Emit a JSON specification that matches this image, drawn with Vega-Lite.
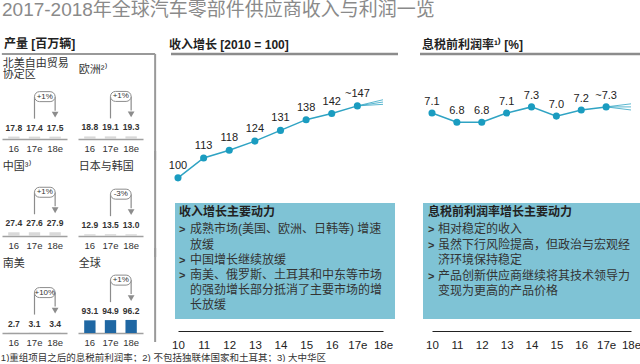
{
  "$schema": "https://vega.github.io/schema/vega-lite/v6.json",
  "background": "white",
  "padding": {"left": 0, "top": 1, "right": 0, "bottom": 0},
  "title": {"text": "2017-2018年全球汽车零部件供应商收入与利润一览", "anchor": "start", "frame": "group", "baseline": "middle", "offset": 9, "fontSize": 19, "fontWeight": "normal", "color": "#8a8a8a"},
  "datasets": {
    "production": [
      {"region": "NAFTA", "name": "北美自由贸易\n协定区", "year": "16", "value": 17.8, "pct": "+1%"},
      {"region": "NAFTA", "name": "北美自由贸易\n协定区", "year": "17e", "value": 17.4, "pct": "+1%"},
      {"region": "NAFTA", "name": "北美自由贸易\n协定区", "year": "18e", "value": 17.5, "pct": "+1%"},
      {"region": "Europe", "name": "欧洲²⁾", "year": "16", "value": 18.8, "pct": "+1%"},
      {"region": "Europe", "name": "欧洲²⁾", "year": "17e", "value": 19.1, "pct": "+1%"},
      {"region": "Europe", "name": "欧洲²⁾", "year": "18e", "value": 19.3, "pct": "+1%"},
      {"region": "China", "name": "中国³⁾", "year": "16", "value": 27.4, "pct": "+1%"},
      {"region": "China", "name": "中国³⁾", "year": "17e", "value": 27.6, "pct": "+1%"},
      {"region": "China", "name": "中国³⁾", "year": "18e", "value": 27.9, "pct": "+1%"},
      {"region": "JapanKorea", "name": "日本与韩国", "year": "16", "value": 12.9, "pct": "-3%"},
      {"region": "JapanKorea", "name": "日本与韩国", "year": "17e", "value": 13.5, "pct": "-3%"},
      {"region": "JapanKorea", "name": "日本与韩国", "year": "18e", "value": 13.0, "pct": "-3%"},
      {"region": "SouthAmerica", "name": "南美", "year": "16", "value": 2.7, "pct": "+10%"},
      {"region": "SouthAmerica", "name": "南美", "year": "17e", "value": 3.1, "pct": "+10%"},
      {"region": "SouthAmerica", "name": "南美", "year": "18e", "value": 3.4, "pct": "+10%"},
      {"region": "Global", "name": "全球", "year": "16", "value": 93.1, "pct": "+1%"},
      {"region": "Global", "name": "全球", "year": "17e", "value": 94.9, "pct": "+1%"},
      {"region": "Global", "name": "全球", "year": "18e", "value": 96.2, "pct": "+1%"}
    ]
  },
  "vconcat": [
    {
      "title": {"text": "1)重组项目之后的息税前利润率；2) 不包括独联体国家和土耳其；3) 大中华区", "orient": "bottom", "anchor": "start", "frame": "bounds", "baseline": "top", "offset": 2, "fontSize": 9.5, "fontWeight": "normal", "color": "#333"},
      "spacing": 7,
      "hconcat": [
        {
          "data": {"name": "production"},
          "title": {"text": "产量 [百万辆]", "anchor": "start", "frame": "group", "baseline": "middle", "offset": -4, "dx": 2, "fontSize": 12, "fontWeight": "bold", "color": "#222"},
          "facet": {"field": "region", "type": "nominal", "sort": ["NAFTA", "Europe", "China", "JapanKorea", "SouthAmerica", "Global"],
                    "header": {"labels": false, "title": null, "labelFontSize": 1, "labelPadding": 0, "labelExpr": "''", "labelColor": "white"}},
          "columns": 2,
          "spacing": {"row": 21, "column": 11},
          "bounds": "flush",
          "resolve": {"axis": {"x": "independent"}},
          "spec": {
            "width": 65,
            "height": 76,
            "encoding": {
              "x": {"field": "year", "type": "ordinal", "scale": {"domain": ["16", "17e", "18e"], "paddingInner": 0.45, "paddingOuter": 0.3},
                    "axis": {"title": null, "ticks": false, "domainColor": "#a0a0a0", "domainWidth": 1.5, "labelFontSize": 9.5, "labelPadding": 4, "labelAngle": 0, "labelColor": "#333", "grid": false}},
              "y": {"field": "value", "type": "quantitative", "scale": {"domain": [0, 560], "nice": false}, "axis": null}
            },
            "layer": [
              {"mark": {"type": "bar"}, "encoding": {"color": {"condition": {"test": "datum.region === 'Global'", "value": "#1f67a3"}, "value": "#d9d9d9"}}},
              {"mark": {"type": "text", "dy": -9, "fontSize": 8.5, "fontWeight": "bold", "baseline": "middle", "color": "#333"},
               "encoding": {"text": {"field": "value", "type": "quantitative", "format": ".1f"}}},
              {"transform": [{"filter": "datum.year === '16' && datum.region !== 'NAFTA'"}],
               "mark": {"type": "text", "align": "left", "baseline": "middle", "lineBreak": "\n", "lineHeight": 11, "fontSize": 11, "dx": -11, "dy": 7, "color": "#333"},
               "encoding": {"x": {"datum": "16", "type": "ordinal"}, "y": {"datum": 560, "type": "quantitative"}, "text": {"field": "name"}}},
              {"transform": [{"filter": "datum.year === '16' && datum.region === 'NAFTA'"}],
               "mark": {"type": "text", "align": "left", "baseline": "middle", "lineBreak": "\n", "lineHeight": 11, "fontSize": 11, "dx": -11, "dy": 1, "color": "#333"},
               "encoding": {"x": {"datum": "16", "type": "ordinal"}, "y": {"datum": 560, "type": "quantitative"}, "text": {"field": "name"}}},
              {"transform": [{"filter": "datum.year === '17e'"}],
               "mark": {"type": "rule", "color": "#8c8c8c", "strokeWidth": 1.2, "yOffset": -40, "y2Offset": -18},
               "encoding": {"y2": {"field": "value"}}},
              {"transform": [{"filter": "datum.year === '17e'"}],
               "mark": {"type": "rule", "color": "#8c8c8c", "strokeWidth": 1.2, "yOffset": -40, "y2Offset": -26},
               "encoding": {"x": {"datum": "18e", "type": "ordinal"}, "y2": {"field": "value"}}},
              {"transform": [{"filter": "datum.year === '17e'"}],
               "mark": {"type": "point", "shape": "triangle-down", "filled": true, "color": "#8c8c8c", "opacity": 1, "size": 45, "yOffset": -22},
               "encoding": {"x": {"datum": "18e", "type": "ordinal"}}},
              {"transform": [{"filter": "datum.year === '17e'"}],
               "mark": {"type": "rect", "fill": "white", "stroke": "#8c8c8c", "strokeWidth": 1, "cornerRadius": 5, "yOffset": -45, "y2Offset": -35},
               "encoding": {"x": {"datum": "17e", "type": "ordinal", "bandPosition": 0.5}, "x2": {"datum": "18e", "bandPosition": 0.5}, "y2": {"field": "value"}}},
              {"transform": [{"filter": "datum.year === '17e'"}],
               "mark": {"type": "text", "fontSize": 8, "dy": -40, "dx": 10.3, "baseline": "middle", "color": "#333"},
               "encoding": {"text": {"field": "pct"}}},
              {"transform": [{"filter": "datum.year === '16' && (datum.region === 'NAFTA' || datum.region === 'Europe')"}],
               "mark": {"type": "rule", "color": "#999", "strokeWidth": 2, "yOffset": -9, "xOffset": -12, "x2Offset": 24},
               "encoding": {"x": {"datum": "16", "type": "ordinal"}, "x2": {"datum": "18e"}, "y": {"datum": 560, "type": "quantitative"}}},
              {"transform": [{"filter": "datum.year === '16' && (datum.region === 'Europe' || datum.region === 'JapanKorea')"}],
               "mark": {"type": "rule", "color": "#999", "strokeWidth": 2, "xOffset": 24, "yOffset": -9, "y2Offset": 21},
               "encoding": {"x": {"datum": "18e", "type": "ordinal"}, "y": {"datum": 560, "type": "quantitative"}, "y2": {"datum": 0}}},
              {"transform": [{"filter": "datum.year === '16' && datum.region === 'Global'"}],
               "mark": {"type": "rule", "color": "#999", "strokeWidth": 2, "xOffset": 24, "yOffset": -9, "y2Offset": 9},
               "encoding": {"x": {"datum": "18e", "type": "ordinal"}, "y": {"datum": 560, "type": "quantitative"}, "y2": {"datum": 0}}}
            ]
          }
        },
        {
          "width": 247,
          "height": 268,
          "title": {"text": "收入增长 [2010 = 100]", "anchor": "start", "frame": "group", "baseline": "middle", "offset": -4, "dx": 5, "fontSize": 12, "fontWeight": "bold", "color": "#222"},
          "data": {"values": [
            {"kind": "main", "series": "main", "year": "10", "value": 100, "label": "100"},
            {"kind": "main", "series": "main", "year": "11", "value": 113, "label": "113"},
            {"kind": "main", "series": "main", "year": "12", "value": 118, "label": "118"},
            {"kind": "main", "series": "main", "year": "13", "value": 124, "label": "124"},
            {"kind": "main", "series": "main", "year": "14", "value": 131, "label": "131"},
            {"kind": "main", "series": "main", "year": "15", "value": 138, "label": "138"},
            {"kind": "main", "series": "main", "year": "16", "value": 142, "label": "142"},
            {"kind": "main", "series": "main", "year": "17e", "value": 147, "label": "~147"},
            {"kind": "fan", "series": "high", "year": "17e", "value": 147},
            {"kind": "fan", "series": "high", "year": "18e", "value": 151},
            {"kind": "fan", "series": "mid", "year": "17e", "value": 147},
            {"kind": "fan", "series": "mid", "year": "18e", "value": 149.5},
            {"kind": "fan", "series": "low", "year": "17e", "value": 147},
            {"kind": "fan", "series": "low", "year": "18e", "value": 148},
            {"kind": "note", "series": "note", "year": "10", "value": 0, "title": "收入增长主要动力", "bullet": ">", "bullets2": ">\n>", "body": "成熟市场(美国、欧洲、日韩等) 增速\n放缓\n中国增长继续放缓\n南美、俄罗斯、土耳其和中东等市场\n的强劲增长部分抵消了主要市场的增\n长放缓"}
          ]},
          "encoding": {
            "x": {"field": "year", "type": "ordinal", "scale": {"type": "point", "domain": ["10", "11", "12", "13", "14", "15", "16", "17e", "18e"], "range": [14, 219], "padding": 0},
                  "axis": {"title": null, "ticks": false, "domainColor": "#222", "domainWidth": 1, "labelFontSize": 11.5, "labelPadding": 8, "labelAngle": 0, "labelColor": "#222", "grid": false}},
            "y": {"field": "value", "type": "quantitative", "scale": {"domain": [0, 175], "nice": false}, "axis": null}
          },
          "layer": [
            {"transform": [{"filter": "datum.kind === 'note'"}],
             "mark": {"type": "rule", "color": "#8c8c8c", "strokeWidth": 2.5, "xOffset": -7, "x2Offset": 15},
             "encoding": {"x": {"datum": "10", "type": "ordinal"}, "x2": {"datum": "18e"}, "y": {"datum": 180.9, "type": "quantitative"}}},
            {"transform": [{"filter": "datum.kind === 'note'"}],
             "mark": {"type": "rect", "color": "#7fc3d5", "xOffset": -3, "x2Offset": 12},
             "encoding": {"x": {"datum": "10", "type": "ordinal"}, "x2": {"datum": "18e"}, "y": {"datum": 83.6, "type": "quantitative"}, "y2": {"datum": 7.8}}},
            {"transform": [{"filter": "datum.kind === 'note'"}],
             "mark": {"type": "text", "align": "left", "baseline": "alphabetic", "fontSize": 12, "fontWeight": "bold", "dx": 1, "color": "#222"},
             "encoding": {"x": {"datum": "10", "type": "ordinal"}, "y": {"datum": 75.1, "type": "quantitative"}, "text": {"field": "title"}}},
            {"transform": [{"filter": "datum.kind === 'note'"}],
             "mark": {"type": "text", "align": "left", "baseline": "alphabetic", "fontSize": 11, "fontWeight": "bold", "dx": 1, "color": "#333"},
             "encoding": {"x": {"datum": "10", "type": "ordinal"}, "y": {"datum": 63.7, "type": "quantitative"}, "text": {"field": "bullet"}}},
            {"transform": [{"filter": "datum.kind === 'note'"}],
             "mark": {"type": "text", "align": "left", "baseline": "alphabetic", "fontSize": 11, "fontWeight": "bold", "dx": 1, "lineBreak": "\n", "lineHeight": 15.2, "color": "#333"},
             "encoding": {"x": {"datum": "10", "type": "ordinal"}, "y": {"datum": 43.84, "type": "quantitative"}, "text": {"field": "bullets2"}}},
            {"transform": [{"filter": "datum.kind === 'note'"}],
             "mark": {"type": "text", "align": "left", "baseline": "alphabetic", "fontSize": 12, "dx": 12, "lineBreak": "\n", "lineHeight": 15.2, "color": "#333"},
             "encoding": {"x": {"datum": "10", "type": "ordinal"}, "y": {"datum": 63.7, "type": "quantitative"}, "text": {"field": "body"}}},
            {"transform": [{"filter": "datum.kind === 'fan'"}],
             "mark": {"type": "line", "color": "#2fa3c3", "strokeWidth": 0.8},
             "encoding": {"detail": {"field": "series"}}},
            {"transform": [{"filter": "datum.kind === 'main'"}],
             "mark": {"type": "line", "color": "#2fa3c3", "strokeWidth": 1.5}},
            {"transform": [{"filter": "datum.kind === 'main'"}],
             "mark": {"type": "circle", "size": 50, "color": "#1a9cc0", "opacity": 1}},
            {"transform": [{"filter": "datum.kind === 'main'"}],
             "mark": {"type": "text", "dy": -12, "fontSize": 11, "baseline": "middle", "color": "#222"},
             "encoding": {"text": {"field": "label"}}}
          ]
        },
        {
          "width": 225,
          "height": 268,
          "title": {"text": "息税前利润率¹⁾ [%]", "anchor": "start", "frame": "group", "baseline": "middle", "offset": -4, "dx": 2, "fontSize": 12, "fontWeight": "bold", "color": "#222"},
          "data": {"values": [
            {"kind": "main", "series": "main", "year": "10", "value": 7.1, "label": "7.1"},
            {"kind": "main", "series": "main", "year": "11", "value": 6.8, "label": "6.8"},
            {"kind": "main", "series": "main", "year": "12", "value": 6.8, "label": "6.8"},
            {"kind": "main", "series": "main", "year": "13", "value": 7.1, "label": "7.1"},
            {"kind": "main", "series": "main", "year": "14", "value": 7.3, "label": "7.3"},
            {"kind": "main", "series": "main", "year": "15", "value": 7.0, "label": "7.0"},
            {"kind": "main", "series": "main", "year": "16", "value": 7.2, "label": "7.2"},
            {"kind": "main", "series": "main", "year": "17e", "value": 7.3, "label": "~7.3"},
            {"kind": "fan", "series": "high", "year": "17e", "value": 7.3},
            {"kind": "fan", "series": "high", "year": "18e", "value": 7.4},
            {"kind": "fan", "series": "mid", "year": "17e", "value": 7.3},
            {"kind": "fan", "series": "mid", "year": "18e", "value": 7.3},
            {"kind": "fan", "series": "low", "year": "17e", "value": 7.3},
            {"kind": "fan", "series": "low", "year": "18e", "value": 7.2},
            {"kind": "note", "series": "note", "year": "10", "value": 0, "title": "息税前利润率增长主要动力", "bullet": ">", "bullets2": ">\n>", "body": "相对稳定的收入\n虽然下行风险提高，但政治与宏观经\n济环境保持稳定\n产品创新供应商继续将其技术领导力\n变现为更高的产品价格"}
          ]},
          "encoding": {
            "x": {"field": "year", "type": "ordinal", "scale": {"type": "point", "domain": ["10", "11", "12", "13", "14", "15", "16", "17e", "18e"], "range": [12, 211], "padding": 0},
                  "axis": {"title": null, "ticks": false, "domainColor": "#222", "domainWidth": 1, "labelFontSize": 11.5, "labelPadding": 8, "labelAngle": 0, "labelColor": "#222", "grid": false}},
            "y": {"field": "value", "type": "quantitative", "scale": {"domain": [0, 8.73], "nice": false}, "axis": null}
          },
          "layer": [
            {"transform": [{"filter": "datum.kind === 'note'"}],
             "mark": {"type": "rule", "color": "#8c8c8c", "strokeWidth": 2.5, "xOffset": -12, "x2Offset": 14},
             "encoding": {"x": {"datum": "10", "type": "ordinal"}, "x2": {"datum": "18e"}, "y": {"datum": 9.02, "type": "quantitative"}}},
            {"transform": [{"filter": "datum.kind === 'note'"}],
             "mark": {"type": "rect", "color": "#7fc3d5", "xOffset": -9, "x2Offset": 14},
             "encoding": {"x": {"datum": "10", "type": "ordinal"}, "x2": {"datum": "18e"}, "y": {"datum": 4.17, "type": "quantitative"}, "y2": {"datum": 0.39}}},
            {"transform": [{"filter": "datum.kind === 'note'"}],
             "mark": {"type": "text", "align": "left", "baseline": "alphabetic", "fontSize": 12, "fontWeight": "bold", "dx": -4, "color": "#222"},
             "encoding": {"x": {"datum": "10", "type": "ordinal"}, "y": {"datum": 3.73, "type": "quantitative"}, "text": {"field": "title"}}},
            {"transform": [{"filter": "datum.kind === 'note'"}],
             "mark": {"type": "text", "align": "left", "baseline": "alphabetic", "fontSize": 11, "fontWeight": "bold", "dx": -4, "lineBreak": "\n", "lineHeight": 15.5, "color": "#333"},
             "encoding": {"x": {"datum": "10", "type": "ordinal"}, "y": {"datum": 3.18, "type": "quantitative"}, "text": {"field": "bullets2"}}},
            {"transform": [{"filter": "datum.kind === 'note'"}],
             "mark": {"type": "text", "align": "left", "baseline": "alphabetic", "fontSize": 11, "fontWeight": "bold", "dx": -4, "color": "#333"},
             "encoding": {"x": {"datum": "10", "type": "ordinal"}, "y": {"datum": 1.665, "type": "quantitative"}, "text": {"field": "bullet"}}},
            {"transform": [{"filter": "datum.kind === 'note'"}],
             "mark": {"type": "text", "align": "left", "baseline": "alphabetic", "fontSize": 12, "dx": 6, "lineBreak": "\n", "lineHeight": 15.5, "color": "#333"},
             "encoding": {"x": {"datum": "10", "type": "ordinal"}, "y": {"datum": 3.18, "type": "quantitative"}, "text": {"field": "body"}}},
            {"transform": [{"filter": "datum.kind === 'fan'"}],
             "mark": {"type": "line", "color": "#2fa3c3", "strokeWidth": 0.8},
             "encoding": {"detail": {"field": "series"}}},
            {"transform": [{"filter": "datum.kind === 'main'"}],
             "mark": {"type": "line", "color": "#2fa3c3", "strokeWidth": 1.5}},
            {"transform": [{"filter": "datum.kind === 'main'"}],
             "mark": {"type": "circle", "size": 50, "color": "#1a9cc0", "opacity": 1}},
            {"transform": [{"filter": "datum.kind === 'main'"}],
             "mark": {"type": "text", "dy": -11, "fontSize": 11, "baseline": "middle", "color": "#222"},
             "encoding": {"text": {"field": "label"}}}
          ]
        }
      ]
    }
  ],
  "config": {
    "view": {"stroke": null},
    "font": "Liberation Sans, Noto Sans CJK SC, sans-serif",
    "title": {"font": "Liberation Sans, Noto Sans CJK SC, sans-serif"},
    "axis": {"labelFont": "Liberation Sans, Noto Sans CJK SC, sans-serif"},
    "text": {"font": "Liberation Sans, Noto Sans CJK SC, sans-serif"},
    "headerFacet": {"labels": false, "title": null, "labelPadding": 0, "labelFontSize": 1},
    "header": {"labels": false, "title": null, "labelPadding": 0, "labelFontSize": 1}
  }
}
